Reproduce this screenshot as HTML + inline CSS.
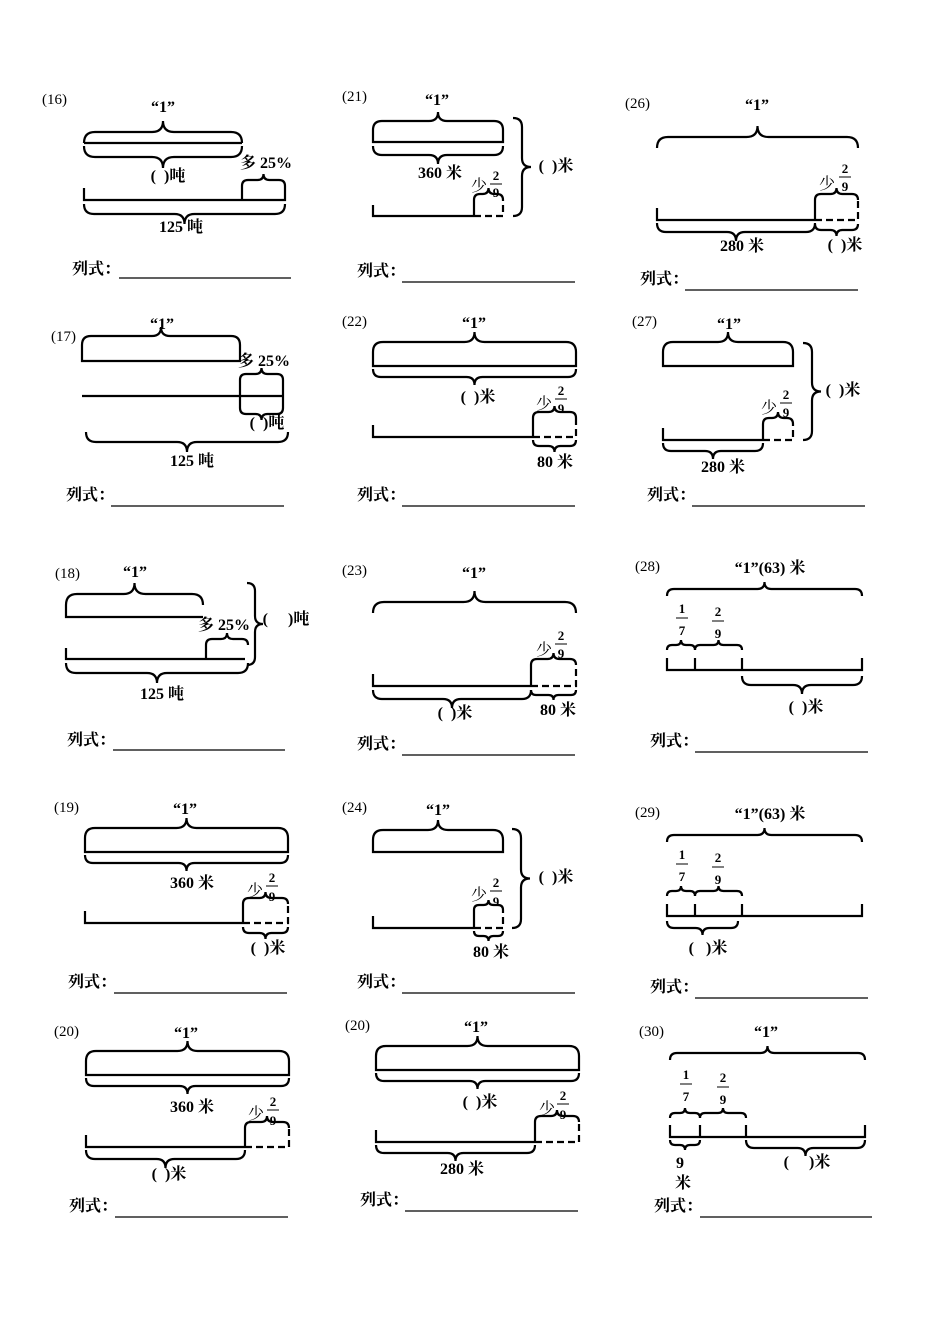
<!DOCTYPE html>
<html><head><meta charset="utf-8"><style>
body{margin:0;background:#fff}
svg{display:block}
path,line{fill:none;stroke:#000;stroke-width:2.2}
.d{stroke-dasharray:7 4}
text{font-family:"Liberation Serif","Noto Serif CJK SC",serif;font-size:16px;font-weight:bold;text-anchor:middle}
.n{font-weight:normal;font-size:15px;text-anchor:start}
.s{font-weight:normal;text-anchor:start}
.f{font-size:13px}
.l{text-anchor:start;font-weight:bold}
</style></head><body>
<svg width="950" height="1344" viewBox="0 0 950 1344">
<!-- 16 -->
<text class="n" x="42" y="104">(16)</text>
<text x="163" y="112">“1”</text>
<path d="M84 143q0-11 11-11H152q11 0 11-11q0 11 11 11H231q11 0 11 11"/>
<path d="M84 143H242"/>
<path d="M84 146q0 11 11 11H152q11 0 11 11q0-11 11-11H231q11 0 11-11"/>
<text x="168" y="181">(&#160;&#160;)吨</text>
<text x="266" y="168">多 25%</text>
<path d="M242 186q0-6 6-6H257.5q6 0 6-6q0 6 6 6H279q6 0 6 6"/>
<path d="M84 188V200H285V186M242 186V200"/>
<path d="M84 204q0 10 10 10H174.5q10 0 10 10q0-10 10-10H275q10 0 10-10"/>
<text x="181" y="232">125 吨</text>
<text class="l" x="72" y="274">列式：</text><line x1="119" y1="278" x2="291" y2="278" style="stroke-width:1.2"/>

<!-- 21 -->
<text class="n" x="342" y="101">(21)</text>
<text x="437" y="105">“1”</text>
<path d="M373 130q0-9 9-9H429q9 0 9-9q0 9 9 9H494q9 0 9 9M373 130V142H503V130"/>
<path d="M373 146q0 9 9 9H429q9 0 9 9q0-9 9-9H494q9 0 9-9"/>
<text x="440" y="178">360 米</text>
<path d="M373 205V216H474M474 200V216"/><path class="d" d="M474 216H503V200"/>
<path d="M474 200q0-6 6-6H482.5q6 0 6-6q0 6 6 6H497q6 0 6 6"/>
<text class="s" x="471" y="191">少</text>
<text class="f" x="496" y="180">2</text><line x1="490" y1="184" x2="502" y2="184" style="stroke-width:1"/><text class="f" x="496" y="197">9</text>
<path d="M513 118q9 0 9 9V158q0 9 9 9q-9 0-9 9V207q0 9-9 9"/>
<text x="556" y="171">(&#160;&#160;)米</text>
<text class="l" x="357" y="276">列式：</text><line x1="402" y1="282" x2="575" y2="282" style="stroke-width:1.2"/>

<!-- 26 -->
<text class="n" x="625" y="108">(26)</text>
<text x="757" y="110">“1”</text>
<path d="M657 148q0-11 11-11H746.5q11 0 11-11q0 11 11 11H847q11 0 11 11"/>
<path d="M657 208V220H815M815 200V220"/><path class="d" d="M815 220H858V200"/>
<path d="M815 200q0-6 6-6H830.5q6 0 6-6q0 6 6 6H852q6 0 6 6"/>
<text class="s" x="819" y="189">少</text>
<text class="f" x="845" y="173">2</text><line x1="839" y1="177" x2="851" y2="177" style="stroke-width:1"/><text class="f" x="845" y="191">9</text>
<path d="M657 223q0 9 9 9H727q9 0 9 9q0-9 9-9H806q9 0 9-9"/>
<path d="M815 224q0 6 6 6H830.5q6 0 6 6q0-6 6-6H852q6 0 6-6"/>
<text x="742" y="251">280 米</text>
<text x="845" y="250">(&#160;&#160;)米</text>
<text class="l" x="640" y="284">列式：</text><line x1="685" y1="290" x2="858" y2="290" style="stroke-width:1.2"/>

<!-- 17 -->
<text class="n" x="51" y="341">(17)</text>
<text x="162" y="329">“1”</text>
<path d="M82 345q0-9 9-9H152q9 0 9-9q0 9 9 9H231q9 0 9 9M82 345V361H240V345"/>
<path d="M82 396H283M240 380V408M283 380V408"/>
<text x="264" y="366">多 25%</text>
<path d="M240 380q0-6 6-6H255.5q6 0 6-6q0 6 6 6H277q6 0 6 6"/>
<path d="M240 408q0 6 6 6H255.5q6 0 6 6q0-6 6-6H277q6 0 6-6"/>
<text x="267" y="428">(&#160;&#160;)吨</text>
<path d="M86 432q0 10 10 10H177q10 0 10 10q0-10 10-10H278q10 0 10-10"/>
<text x="192" y="466">125 吨</text>
<text class="l" x="66" y="500">列式：</text><line x1="111" y1="506" x2="284" y2="506" style="stroke-width:1.2"/>

<!-- 22 -->
<text class="n" x="342" y="326">(22)</text>
<text x="474" y="328">“1”</text>
<path d="M373 352q0-10 10-10H464.5q10 0 10-10q0 10 10 10H566q10 0 10 10M373 352V366H576V352"/>
<path d="M373 369q0 8 8 8H466.5q8 0 8 8q0-8 8-8H568q8 0 8-8"/>
<text x="478" y="402">(&#160;&#160;)米</text>
<path d="M373 425V437H533M533 418V437"/><path class="d" d="M533 437H576V418"/>
<path d="M533 418q0-6 6-6H548.5q6 0 6-6q0 6 6 6H570q6 0 6 6"/>
<text class="s" x="536" y="409">少</text>
<text class="f" x="561" y="395">2</text><line x1="555" y1="399" x2="567" y2="399" style="stroke-width:1"/><text class="f" x="561" y="413">9</text>
<path d="M533 440q0 6 6 6H548.5q6 0 6 6q0-6 6-6H570q6 0 6-6"/>
<text x="555" y="467">80 米</text>
<text class="l" x="357" y="500">列式：</text><line x1="402" y1="506" x2="575" y2="506" style="stroke-width:1.2"/>

<!-- 27 -->
<text class="n" x="632" y="326">(27)</text>
<text x="729" y="329">“1”</text>
<path d="M663 352q0-10 10-10H718q10 0 10-10q0 10 10 10H783q10 0 10 10M663 352V366H793V352"/>
<path d="M663 428V440H763M763 424V440"/><path class="d" d="M763 440H793V424"/>
<path d="M763 424q0-6 6-6H772q6 0 6-6q0 6 6 6H787q6 0 6 6"/>
<text class="s" x="761" y="413">少</text>
<text class="f" x="786" y="399">2</text><line x1="780" y1="403" x2="792" y2="403" style="stroke-width:1"/><text class="f" x="786" y="417">9</text>
<path d="M663 443q0 8 8 8H705q8 0 8 8q0-8 8-8H755q8 0 8-8"/>
<text x="723" y="472">280 米</text>
<path d="M803 343q9 0 9 9V382.5q0 9 9 9q-9 0-9 9V431q0 9-9 9"/>
<text x="843" y="395">(&#160;&#160;)米</text>
<text class="l" x="647" y="500">列式：</text><line x1="692" y1="506" x2="865" y2="506" style="stroke-width:1.2"/>

<!-- 18 -->
<text class="n" x="55" y="578">(18)</text>
<text x="135" y="577">“1”</text>
<path d="M66 605q0-11 11-11H123.5q11 0 11-11q0 11 11 11H192q11 0 11 11M66 605V617H203"/>
<text x="224" y="630">多 25%</text>
<path d="M206 645q0-6 6-6H221q6 0 6-6q0 6 6 6H242q6 0 6 6"/>
<path d="M66 648V659H245M206 645V659"/>
<path d="M66 663q0 10 10 10H147q10 0 10 10q0-10 10-10H238q10 0 10-10"/>
<text x="162" y="699">125 吨</text>
<path d="M247 583q8 0 8 8V616q0 8 8 8q-8 0-8 8V657q0 8-8 8"/>
<text x="286" y="624">(&#160;&#160;&#160;&#160;&#160;)吨</text>
<text class="l" x="67" y="745">列式：</text><line x1="113" y1="750" x2="285" y2="750" style="stroke-width:1.2"/>

<!-- 23 -->
<text class="n" x="342" y="575">(23)</text>
<text x="474" y="578">“1”</text>
<path d="M373 613q0-11 11-11H463.5q11 0 11-11q0 11 11 11H565q11 0 11 11"/>
<path d="M373 674V686H531M531 665V686"/><path class="d" d="M531 686H576V665"/>
<path d="M531 665q0-6 6-6H547.5q6 0 6-6q0 6 6 6H570q6 0 6 6"/>
<text class="s" x="536" y="655">少</text>
<text class="f" x="561" y="640">2</text><line x1="555" y1="644" x2="567" y2="644" style="stroke-width:1"/><text class="f" x="561" y="658">9</text>
<path d="M373 690q0 9 9 9H443q9 0 9 9q0-9 9-9H522q9 0 9-9"/>
<path d="M531 690q0 5 5 5H548.5q5 0 5 5q0-5 5-5H571q5 0 5-5"/>
<text x="455" y="718">(&#160;&#160;)米</text>
<text x="558" y="715">80 米</text>
<text class="l" x="357" y="749">列式：</text><line x1="402" y1="755" x2="575" y2="755" style="stroke-width:1.2"/>

<!-- 28 -->
<text class="n" x="635" y="571">(28)</text>
<text x="770" y="573">“1”(63) 米</text>
<path d="M667 596q0-7 7-7H757.5q7 0 7-7q0 7 7 7H855q7 0 7 7"/>
<text class="f" x="682" y="613">1</text><line x1="676" y1="618" x2="688" y2="618" style="stroke-width:1"/><text class="f" x="682" y="635">7</text>
<text class="f" x="718" y="616">2</text><line x1="712" y1="621" x2="724" y2="621" style="stroke-width:1"/><text class="f" x="718" y="638">9</text>
<path d="M667 650q0-5 5-5H676q5 0 5-5q0 5 5 5H690q5 0 5 5"/>
<path d="M695 650q0-5 5-5H713.5q5 0 5-5q0 5 5 5H737q5 0 5 5"/>
<path d="M667 658V670H862V658M695 658V670M742 658V670"/>
<path d="M742 676q0 9 9 9H793q9 0 9 9q0-9 9-9H853q9 0 9-9"/>
<text x="806" y="712">(&#160;&#160;)米</text>
<text class="l" x="650" y="746">列式：</text><line x1="695" y1="752" x2="868" y2="752" style="stroke-width:1.2"/>

<!-- 19 -->
<text class="n" x="54" y="812">(19)</text>
<text x="185" y="814">“1”</text>
<path d="M85 838q0-10 10-10H176.5q10 0 10-10q0 10 10 10H278q10 0 10 10M85 838V852H288V838"/>
<path d="M85 855q0 8 8 8H178.5q8 0 8 8q0-8 8-8H280q8 0 8-8"/>
<text x="192" y="888">360 米</text>
<path d="M85 911V923H243M243 904V923"/><path class="d" d="M243 923H288V904"/>
<path d="M243 904q0-6 6-6H259.5q6 0 6-6q0 6 6 6H282q6 0 6 6"/>
<text class="s" x="247" y="896">少</text>
<text class="f" x="272" y="882">2</text><line x1="266" y1="886" x2="278" y2="886" style="stroke-width:1"/><text class="f" x="272" y="901">9</text>
<path d="M243 927q0 6 6 6H259.5q6 0 6 6q0-6 6-6H282q6 0 6-6"/>
<text x="268" y="953">(&#160;&#160;)米</text>
<text class="l" x="68" y="987">列式：</text><line x1="114" y1="993" x2="287" y2="993" style="stroke-width:1.2"/>

<!-- 24 -->
<text class="n" x="342" y="812">(24)</text>
<text x="438" y="815">“1”</text>
<path d="M373 840q0-10 10-10H428q10 0 10-10q0 10 10 10H493q10 0 10 10M373 840V852H503V840"/>
<path d="M373 916V928H474M474 910V928"/><path class="d" d="M474 928H503V910"/>
<path d="M474 910q0-5 5-5H483.5q5 0 5-5q0 5 5 5H498q5 0 5 5"/>
<text class="s" x="471" y="900">少</text>
<text class="f" x="496" y="887">2</text><line x1="490" y1="891" x2="502" y2="891" style="stroke-width:1"/><text class="f" x="496" y="906">9</text>
<path d="M474 931q0 5 5 5H483.5q5 0 5 5q0-5 5-5H498q5 0 5-5"/>
<text x="491" y="957">80 米</text>
<path d="M512 829q9 0 9 9V869.5q0 9 9 9q-9 0-9 9V919q0 9-9 9"/>
<text x="556" y="882">(&#160;&#160;)米</text>
<text class="l" x="357" y="987">列式：</text><line x1="402" y1="993" x2="575" y2="993" style="stroke-width:1.2"/>

<!-- 29 -->
<text class="n" x="635" y="817">(29)</text>
<text x="770" y="819">“1”(63) 米</text>
<path d="M667 842q0-7 7-7H757.5q7 0 7-7q0 7 7 7H855q7 0 7 7"/>
<text class="f" x="682" y="859">1</text><line x1="676" y1="864" x2="688" y2="864" style="stroke-width:1"/><text class="f" x="682" y="881">7</text>
<text class="f" x="718" y="862">2</text><line x1="712" y1="867" x2="724" y2="867" style="stroke-width:1"/><text class="f" x="718" y="884">9</text>
<path d="M667 896q0-5 5-5H676q5 0 5-5q0 5 5 5H690q5 0 5 5"/>
<path d="M695 896q0-5 5-5H713.5q5 0 5-5q0 5 5 5H737q5 0 5 5"/>
<path d="M667 904V916H862V904M695 904V916M742 904V916"/>
<path d="M667 921q0 7 7 7H695.5q7 0 7 7q0-7 7-7H731q7 0 7-7"/>
<text x="708" y="953">(&#160;&#160;&#160;)米</text>
<text class="l" x="650" y="992">列式：</text><line x1="695" y1="998" x2="868" y2="998" style="stroke-width:1.2"/>

<!-- 20 left -->
<text class="n" x="54" y="1036">(20)</text>
<text x="186" y="1038">“1”</text>
<path d="M86 1061q0-10 10-10H177.5q10 0 10-10q0 10 10 10H279q10 0 10 10M86 1061V1075H289V1061"/>
<path d="M86 1078q0 8 8 8H179.5q8 0 8 8q0-8 8-8H281q8 0 8-8"/>
<text x="192" y="1112">360 米</text>
<path d="M86 1135V1147H245M245 1128V1147"/><path class="d" d="M245 1147H289V1128"/>
<path d="M245 1128q0-6 6-6H261q6 0 6-6q0 6 6 6H283q6 0 6 6"/>
<text class="s" x="248" y="1119">少</text>
<text class="f" x="273" y="1106">2</text><line x1="267" y1="1110" x2="279" y2="1110" style="stroke-width:1"/><text class="f" x="273" y="1125">9</text>
<path d="M86 1150q0 9 9 9H156.5q9 0 9 9q0-9 9-9H236q9 0 9-9"/>
<text x="169" y="1179">(&#160;&#160;)米</text>
<text class="l" x="69" y="1211">列式：</text><line x1="115" y1="1217" x2="288" y2="1217" style="stroke-width:1.2"/>

<!-- 20 right -->
<text class="n" x="345" y="1030">(20)</text>
<text x="476" y="1032">“1”</text>
<path d="M376 1056q0-10 10-10H467.5q10 0 10-10q0 10 10 10H569q10 0 10 10M376 1056V1070H579V1056"/>
<path d="M376 1073q0 8 8 8H469.5q8 0 8 8q0-8 8-8H571q8 0 8-8"/>
<text x="480" y="1107">(&#160;&#160;)米</text>
<path d="M376 1130V1142H535M535 1122V1142"/><path class="d" d="M535 1142H579V1122"/>
<path d="M535 1122q0-6 6-6H551q6 0 6-6q0 6 6 6H573q6 0 6 6"/>
<text class="s" x="539" y="1114">少</text>
<text class="f" x="563" y="1100">2</text><line x1="557" y1="1104" x2="569" y2="1104" style="stroke-width:1"/><text class="f" x="563" y="1119">9</text>
<path d="M376 1145q0 8 8 8H447.5q8 0 8 8q0-8 8-8H527q8 0 8-8"/>
<text x="462" y="1174">280 米</text>
<text class="l" x="360" y="1205">列式：</text><line x1="405" y1="1211" x2="578" y2="1211" style="stroke-width:1.2"/>

<!-- 30 -->
<text class="n" x="639" y="1036">(30)</text>
<text x="766" y="1037">“1”</text>
<path d="M670 1060q0-7 7-7H760.5q7 0 7-7q0 7 7 7H858q7 0 7 7"/>
<text class="f" x="686" y="1079">1</text><line x1="680" y1="1084" x2="692" y2="1084" style="stroke-width:1"/><text class="f" x="686" y="1101">7</text>
<text class="f" x="723" y="1082">2</text><line x1="717" y1="1087" x2="729" y2="1087" style="stroke-width:1"/><text class="f" x="723" y="1104">9</text>
<path d="M670 1118q0-5 5-5H680q5 0 5-5q0 5 5 5H695q5 0 5 5"/>
<path d="M700 1118q0-5 5-5H718q5 0 5-5q0 5 5 5H741q5 0 5 5"/>
<path d="M670 1125V1137H865V1125M700 1125V1137M746 1125V1137"/>
<path d="M670 1140q0 5 5 5H680q5 0 5 5q0-5 5-5H695q5 0 5-5"/>
<text x="680" y="1168">9</text>
<text x="683" y="1188">米</text>
<path d="M746 1140q0 8 8 8H797.5q8 0 8 8q0-8 8-8H857q8 0 8-8"/>
<text x="807" y="1167">(&#160;&#160;&#160;&#160;&#160;)米</text>
<text class="l" x="654" y="1211">列式：</text><line x1="700" y1="1217" x2="872" y2="1217" style="stroke-width:1.2"/>
</svg>
</body></html>
